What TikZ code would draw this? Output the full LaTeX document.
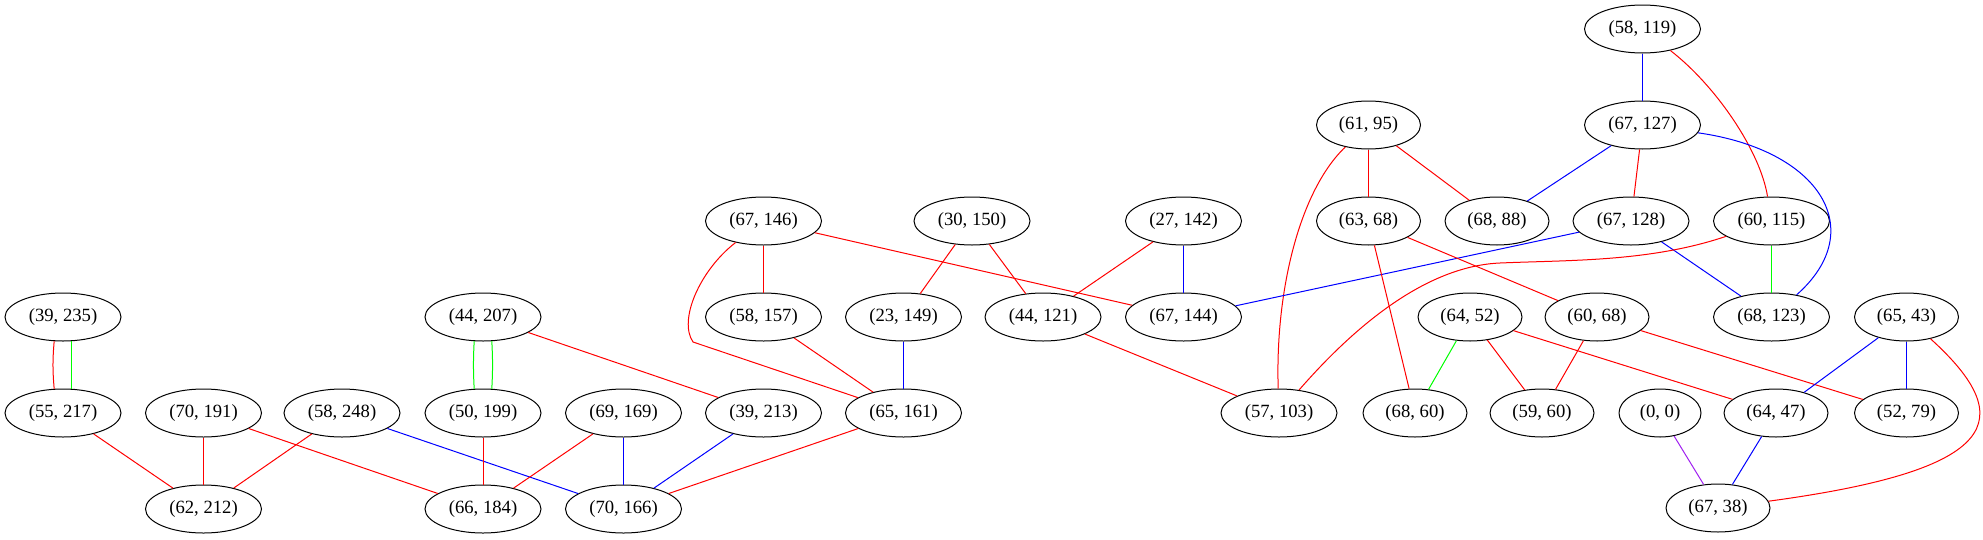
\documentclass[tikz,border=0pt]{standalone}
\usepackage{fontspec}
\setmainfont{Liberation Serif}
\usepackage{tikz}
\usetikzlibrary{positioning}
\usetikzlibrary{shapes.geometric}
\definecolor{gvgreen}{RGB}{0,255,0}
\definecolor{gvpurple}{RGB}{160,32,240}

\begin{document}
\begin{tikzpicture}[
                x=0.75pt, y=-0.75pt,
                vertex/.style = {
                    draw,
                    ellipse,
                    line width = 0.75pt,
                    minimum width = #1,
                    minimum height = 36pt,
                    inner sep = 0pt,
                    font = \fontsize{14pt}{16pt}\selectfont
                },
                vertex/.default = 87pt,
                edge/.style = {line width = 0.75pt},
                node distance = {72pt}
            ]
            \useasboundingbox (0,0) rectangle (1983,539);
            % 
            \node[vertex] (58-119) at (1642.5,29) {(58, 119)};
            \node[vertex, below of=58-119] (67-127) {(67, 127)};
            \node[vertex=78pt] (61-95) at (1368.5,125) {(61, 95)};
            % 
            \node[vertex] (67-146) at (763.5,221) {(67, 146)};
            \node[vertex] (30-150) at (972,221) {(30, 150)};
            \node[vertex] (27-142) at (1183.5,221) {(27, 142)};
            \node[vertex=78pt, below of=61-95] (63-68) {(63, 68)};
            \node[vertex=78pt] (68-88) at (1497,221) {(68, 88)};
            \node[vertex] (67-128) at (1631,221) {(67, 128)};
            \node[vertex] (60-115) at (1771.5,221) {(60, 115)};
            % 
            \node[vertex] (39-235) at (63,317) {(39, 235)};
            \node[vertex] (44-207) at (483,317) {(44, 207)};
            \node[vertex, below of=67-146] (58-157) {(58, 157)};
            \node[vertex] (23-149) at (903.5,317) {(23, 149)};
            \node[vertex] (44-121) at (1043,317) {(44, 121)};
            \node[vertex, below of=27-142] (67-144) {(67, 144)};
            \node[vertex=78pt] (64-52) at (1470,317) {(64, 52)};
            \node[vertex=78pt] (60-68) at (1597,317) {(60, 68)};
            \node[vertex, below of=60-115] (68-123) {(68, 123)};
            \node[vertex=78pt] (65-43) at (1906.5,317) {(65, 43)};
            % 
            \node[vertex, below of=39-235] (55-217) {(55, 217)};
            \node[vertex] (70-191) at (203.5,413) {(70, 191)};
            \node[vertex] (58-248) at (342,413) {(58, 248)};
            \node[vertex, below of=44-207] (50-199) {(50, 199)};
            \node[vertex] (69-169) at (623.5,413) {(69, 169)};
            \node[vertex, below of=58-157] (39-213) {(39, 213)};
            \node[vertex, below of=23-149] (65-161) {(65, 161)};
            \node[vertex] (57-103) at (1279,413) {(57, 103)};
            \node[vertex=78pt] (68-60) at (1415,413) {(68, 60)};
            \node[vertex=78pt] (59-60) at (1542,413) {(59, 60)};
            \node[vertex=61.5pt] (0-0) at (1660,413) {(0, 0)};
            \node[vertex=78pt] (64-47) at (1776,413) {(64, 47)};
            \node[vertex=78pt, below of=65-43] (52-79) {(52, 79)};
            % 
            \node[vertex, below of=70-191] (62-212) {(62, 212)};
            \node[vertex, below of=50-199] (66-184) {(66, 184)};
            \node[vertex, below of=69-169] (70-166) {(70, 166)};
            \node[vertex=78pt] (67-38) at (1718,508) {(67, 38)};
            % 
            \draw[edge, blue] (58-119) -- (67-127);
            \draw[edge, red] (58-119) .. controls (1715,85) and (1760,150) .. (60-115);
            \draw[edge, blue] (67-127) -- (68-88);
            \draw[edge, red] (67-127) -- (67-128);
            \draw[edge, blue] (67-127) .. controls (1820,150) and (1870,230) .. (68-123);
            % 
            \draw[edge, red] (61-95) -- (63-68);
            \draw[edge, red] (61-95) -- (68-88);
            \draw[edge, red] (61-95) .. controls (1300,190) and (1275,290) .. (57-103);
            % 
            \draw[edge, blue] (67-128) -- (67-144);
            \draw[edge, blue] (67-128) -- (68-123);
            \draw[edge, gvgreen] (60-115) -- (68-123);
            \draw[edge, red] (60-115) .. controls (1650,262) and (1570,260) .. (1500,263)
                .. controls (1430,266) and (1360,320) .. (57-103);
            \draw[edge, red] (63-68) -- (68-60);
            \draw[edge, red] (63-68) -- (60-68);
            % 
            \draw[edge, red] (67-146) -- (58-157);
            \draw[edge, red] (67-146) -- (67-144);
            \draw[edge, red] (67-146) .. controls (700,270) and (678,320) .. (693,342) -- (65-161);
            \draw[edge, red] (30-150) -- (23-149);
            \draw[edge, red] (30-150) -- (44-121);
            \draw[edge, red] (27-142) -- (44-121);
            \draw[edge, blue] (27-142) -- (67-144);
            % 
            \draw[edge, red] (39-235.250) to[out=265, in=95] (55-217.110);
            \draw[edge, gvgreen] (39-235.290) -- (55-217.70);
            \draw[edge, gvgreen] (44-207.250) to[out=267, in=93] (50-199.110);
            \draw[edge, gvgreen] (44-207.290) to[out=273, in=87] (50-199.70);
            \draw[edge, red] (44-207) -- (39-213);
            \draw[edge, red] (58-157) -- (65-161);
            \draw[edge, blue] (23-149) -- (65-161);
            \draw[edge, red] (44-121) -- (57-103);
            % 
            \draw[edge, gvgreen] (64-52) -- (68-60);
            \draw[edge, red] (64-52) -- (59-60);
            \draw[edge, red] (64-52) -- (64-47);
            \draw[edge, red] (60-68) -- (59-60);
            \draw[edge, red] (60-68) -- (52-79);
            \draw[edge, blue] (65-43) -- (64-47);
            \draw[edge, blue] (65-43) -- (52-79);
            \draw[edge, red] (65-43) .. controls (2020,420) and (2000,470) .. (67-38);
            % 
            \draw[edge, red] (55-217) -- (62-212);
            \draw[edge, red] (70-191) -- (62-212);
            \draw[edge, red] (70-191) -- (66-184);
            \draw[edge, red] (58-248) -- (62-212);
            \draw[edge, blue] (58-248) -- (70-166);
            \draw[edge, red] (50-199) -- (66-184);
            \draw[edge, red] (69-169) -- (66-184);
            \draw[edge, blue] (69-169) -- (70-166);
            \draw[edge, blue] (39-213) -- (70-166);
            \draw[edge, red] (65-161) -- (70-166);
            \draw[edge, gvpurple] (0-0) -- (67-38);
            \draw[edge, blue] (64-47) -- (67-38);
            % 
        \end{tikzpicture}
\end{document}
